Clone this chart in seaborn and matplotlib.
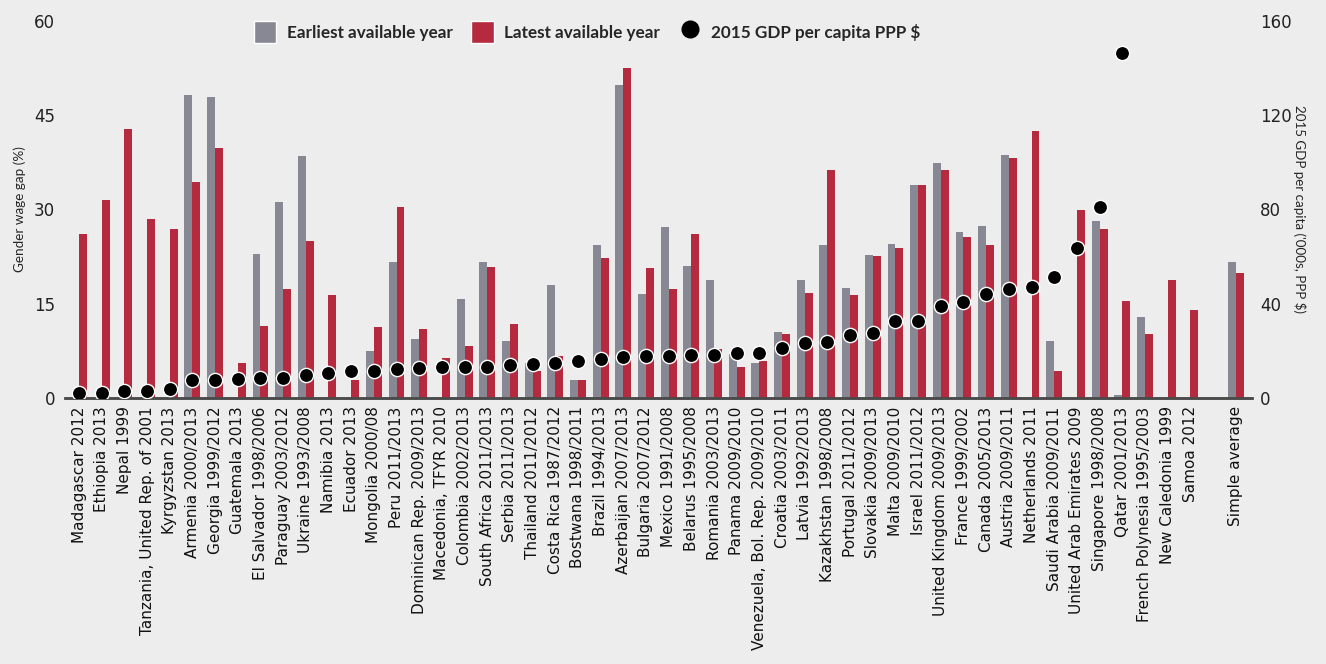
import numpy as np
import pandas as pd
import seaborn as sns
import matplotlib.pyplot as plt
from matplotlib.patches import Patch
from matplotlib.lines import Line2D

nan = np.nan

# categories (the empty string is the gap before the average)
countries = ["Madagascar 2012", "Ethiopia 2013", "Nepal 1999", "Tanzania, United Rep. of 2001",
             "Kyrgyzstan 2013", "Armenia 2000/2013", "Georgia 1999/2012", "Guatemala 2013",
             "El Salvador 1998/2006", "Paraguay 2003/2012", "Ukraine 1993/2008", "Namibia 2013",
             "Ecuador 2013", "Mongolia 2000/08", "Peru 2011/2013", "Dominican Rep. 2009/2013",
             "Macedonia, TFYR 2010", "Colombia 2002/2013", "South Africa 2011/2013",
             "Serbia 2011/2013", "Thailand 2011/2012", "Costa Rica 1987/2012", "Bostwana 1998/2011",
             "Brazil 1994/2013", "Azerbaijan 2007/2013", "Bulgaria 2007/2012", "Mexico 1991/2008",
             "Belarus 1995/2008", "Romania 2003/2013", "Panama 2009/2010",
             "Venezuela, Bol. Rep. 2009/2010", "Croatia 2003/2011", "Latvia 1992/2013",
             "Kazakhstan 1998/2008", "Portugal 2011/2012", "Slovakia 2009/2013", "Malta 2009/2010",
             "Israel 2011/2012", "United Kingdom 2009/2013", "France 1999/2002", "Canada 2005/2013",
             "Austria 2009/2011", "Netherlands 2011", "Saudi Arabia 2009/2011",
             "United Arab Emirates 2009", "Singapore 1998/2008", "Qatar 2001/2013",
             "French Polynesia 1995/2003", "New Caledonia 1999", "Samoa 2012", "", "Simple average"]

earliest = [nan, nan, nan, nan, nan, 48.2, 47.9, nan, 22.9, 31.2, 38.4, nan,
            nan, 7.5, 21.7, 9.4, nan, 15.8, 21.7, 9.0, 5.5, 17.9, 2.9,
            24.4, 49.7, 16.6, 27.2, 21.0, 18.8, 7.0, 5.6, 10.5, 18.7,
            24.4, 17.5, 22.8, 24.5, 33.9, 37.3, 26.4, 27.4, 38.7, nan, 9.0,
            nan, 28.2, 0.5, 12.8, nan, nan, nan, 21.7]

latest = [26.0, 31.5, 42.8, 28.4, 26.8, 34.4, 39.8, 5.6, 11.5, 17.4, 24.9, 16.3,
          2.8, 11.3, 30.4, 10.9, 6.3, 8.3, 20.9, 11.7, 4.3, 6.6, 2.8,
          22.2, 52.5, 20.6, 17.4, 26.1, 7.8, 5.0, 5.9, 10.1, 16.7,
          36.3, 16.4, 22.5, 23.9, 33.9, 36.3, 25.6, 24.4, 38.2, 42.5, 4.3,
          29.9, 26.9, 15.5, 10.2, 18.7, 14.0, nan, 19.8]

# 2015 GDP per capita, '000s PPP $
gdp = [2.1, 2.1, 2.8, 3.1, 3.8, 7.6, 7.6, 7.9, 8.3, 8.6, 9.6, 10.6,
       11.5, 11.6, 12.2, 12.7, 13.2, 13.3, 13.3, 13.9, 14.6, 14.9, 15.7,
       16.5, 17.5, 17.8, 18.0, 18.1, 18.1, 19.0, 19.0, 21.1, 23.2,
       23.6, 26.7, 27.7, 32.5, 32.5, 38.9, 40.5, 44.3, 46.4, 47.1, 51.5,
       63.8, 81.0, 146.4, nan, nan, nan, nan, nan]

series = ["Earliest available year", "Latest available year"]
grey = "#878893"
red = "#B52A3E"
bg = "#EDEDED"

df = pd.DataFrame({
    "country": countries * 2,
    "series": [series[0]] * len(countries) + [series[1]] * len(countries),
    "value": earliest + latest,
})

sns.set_theme(style="white")
plt.rcParams["font.family"] = ["DejaVu Sans"]
narrow = ["Lato", "DejaVu Sans"]

fig = plt.figure(figsize=(13.26, 6.64), dpi=100, facecolor=bg)
ax = fig.add_axes([0.049, 0.4006, 0.895, 0.5684], facecolor=bg)

sns.barplot(data=df, x="country", y="value", hue="series", order=countries,
            hue_order=series, palette=[grey, red], width=0.7, saturation=1,
            errorbar=None, legend=False, linewidth=0, ax=ax)

ax2 = ax.twinx()
pos = np.arange(len(countries))
sns.scatterplot(x=pos, y=gdp, color="black", edgecolor="white", linewidth=1,
                s=105, ax=ax2, zorder=5)

ax.set_xlim(-0.62, 51.71)
ax.set_ylim(0, 60)
ax.set_yticks([0, 15, 30, 45, 60])
ax2.set_ylim(0, 160)
ax2.set_yticks([0, 40, 80, 120, 160])

ax.set_xlabel("")
ax.tick_params(axis="x", rotation=90, length=0, labelsize=11, pad=6, colors="#111111")
ax.tick_params(axis="y", length=0, labelsize=12, pad=7, colors="#222222")
ax2.tick_params(axis="y", length=0, labelsize=12, pad=6, colors="#222222")

ax.set_ylabel("Gender wage gap (%)", fontsize=9.7, family=narrow, labelpad=6)
ax2.set_ylabel("2015 GDP per capita ('000s, PPP $)", fontsize=9.6, family=narrow,
               rotation=270, labelpad=10)

for a in (ax, ax2):
    for s in ("top", "left", "right"):
        a.spines[s].set_visible(False)
    a.spines["bottom"].set_color("#4a4a4a")
    a.spines["bottom"].set_linewidth(1.8)

handles = [Patch(facecolor=grey), Patch(facecolor=red),
           Line2D([0], [0], marker="o", color="none", markerfacecolor="black",
                  markeredgecolor="black", markersize=12)]
labels = series + ["2015 GDP per capita PPP $"]
ax2.legend(handles, labels, loc="center", bbox_to_anchor=(0.44, 0.97), ncol=3,
           frameon=False, handlelength=1.3, handleheight=1.6, handletextpad=0.6,
           columnspacing=1.1, prop={"family": narrow, "weight": "bold", "size": 12.3})

fig.savefig("out.png", dpi=100, facecolor=bg)
